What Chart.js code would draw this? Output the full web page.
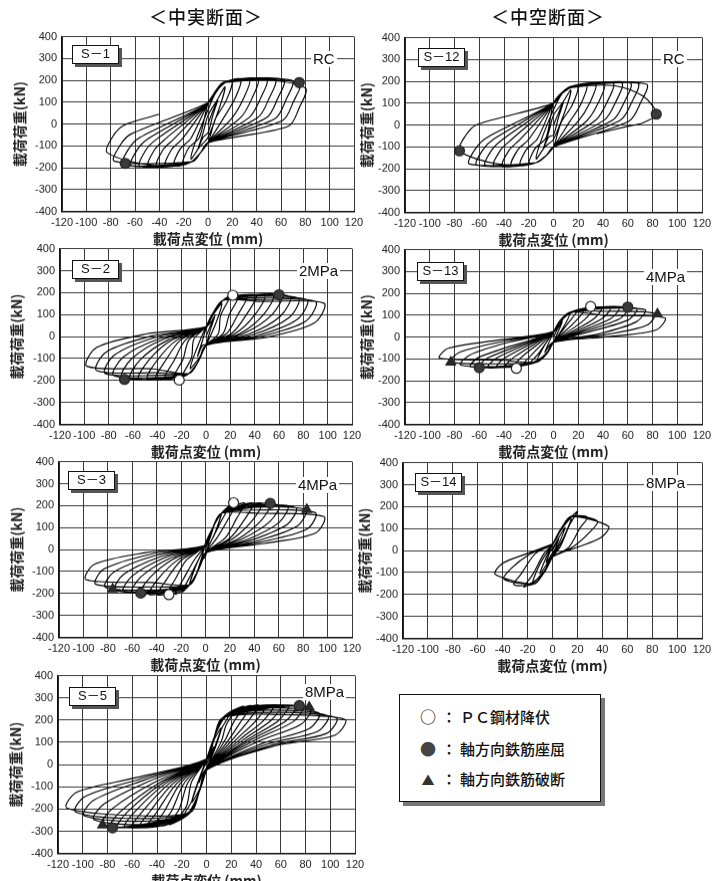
<!DOCTYPE html>
<html lang="ja">
<head>
<meta charset="utf-8">
<title>荷重－変位履歴曲線</title>
<script src="https://cdn.jsdelivr.net/npm/chart.js@4.4.1/dist/chart.umd.min.js"></script>
<style>
  html, body { margin: 0; padding: 0; background: #fff; }
  body { width: 712px; height: 881px; position: relative; overflow: hidden; color: #111;
         font-family: 'Liberation Sans', Arial, sans-serif; }
  .panel { position: absolute; }
  .head  { position: absolute; top: 6px; transform: translateX(-50%); white-space: nowrap;
           font: 500 18px/20px 'Noto Sans CJK JP', sans-serif; letter-spacing: 1px; z-index: 2; }
  .tag   { position: absolute; box-sizing: border-box; width: 47px; height: 19px; z-index: 2;
           border: 1.5px solid #111; background: #fff; box-shadow: 3px 3px 0 #555;
           font: 13px/16px 'Liberation Sans', 'Noto Sans CJK JP', sans-serif; text-align: center; }
  .note  { position: absolute; transform: translateY(-50%); background: #fff; padding: 0 2px; z-index: 2;
           font: 15px/16px 'Liberation Sans', Arial, sans-serif; }
  .legend { position: absolute; left: 399px; top: 694px; width: 202px; height: 108px; box-sizing: border-box;
            border: 1.5px solid #111; background: #fff; box-shadow: 4px 4px 0 #777; z-index: 2; }
  .legend div { position: absolute; left: 0; height: 20px; line-height: 20px; white-space: nowrap;
                font: 500 15px/20px 'Noto Sans CJK JP', sans-serif; }
  .legend .sym { display: inline-block; width: 20px; margin-left: 18px; text-align: center; }
  .legend .col { display: inline-block; width: 22px; text-align: center; }
</style>
</head>
<body>
<div class="head" style="left:206px">＜中実断面＞</div>
<div class="head" style="left:548px">＜中空断面＞</div>
<div class="legend" id="legend"></div>

<script>
/* ============================================================
   DATA  (load path of every test, [displacement mm, load kN])
   ============================================================ */

const s1Path = [
  [0,0],[4,60],[8,110],[4,40],[0,-40],[-4,-60],[-8,-110],[-4,-40],[0,40],
  [7,105],[14,170],[10,85],[0,-60],[-7,-105],[-14,-160],[-10,-75],[0,65],
  [6,140],[13,185],[20,198],[15,108],[6,23],[0,-85],[-6,-130],[-13,-170],[-21,-185],[-16,-110],[-7,-60],
  [0,95],[6,148],[13,190],[27,205],[22,115],[13,30],[0,-85],[-6,-130],[-13,-172],[-28,-190],[-23,-115],[-14,-65],
  [0,95],[6,148],[13,190],[34,205],[29,115],[20,30],[0,-85],[-6,-130],[-13,-172],[-35,-192],[-30,-117],[-21,-67],
  [0,95],[6,148],[13,190],[41,206],[36,116],[27,31],[0,-85],[-6,-130],[-13,-172],[-42,-193],[-37,-118],[-28,-68],
  [0,95],[6,148],[13,190],[48,206],[43,116],[34,31],[0,-85],[-6,-130],[-13,-172],[-49,-193],[-44,-118],[-35,-68],
  [0,95],[6,148],[13,190],[55,205],[50,115],[41,30],[0,-85],[-6,-130],[-13,-172],[-56,-193],[-51,-118],[-42,-68],
  [0,95],[6,148],[13,190],[62,204],[57,114],[48,29],[0,-85],[-6,-130],[-13,-172],[-63,-191],[-58,-116],[-49,-66],
  [0,95],[6,148],[13,190],[69,200],[64,110],[55,25],[0,-85],[-6,-130],[-13,-172],[-70,-187],[-65,-112],[-56,-62],
  [0,95],[6,148],[13,190],[75,190],[70,100],[61,15],[0,-85],[-6,-130],[-13,-172],[-77,-170],[-72,-95],[-63,-45],
  [0,98],[6,150],[13,192],[45,204],[80,165],[75,75],[66,-10],[0,-85],[-6,-130],[-13,-172],[-45,-190],
  [-83,-130],[-78,-55],[-69,-5],[-40,45],
];

const s12Path = [
  [0,0],[4,55],[8,105],[4,35],[0,-45],[-4,-55],[-8,-105],[-4,-35],[0,45],
  [7,100],[14,160],[10,75],[0,-65],[-7,-100],[-14,-155],[-10,-70],[0,70],
  [7,145],[14,175],[20,180],[15,90],[6,10],[0,-100],[-6,-140],[-14,-172],[-20,-178],[-15,-108],[-6,-58],
  [0,100],[7,150],[15,178],[27,185],[22,95],[13,15],[0,-100],[-6,-140],[-14,-172],[-27,-183],[-22,-113],[-13,-63],
  [0,100],[7,150],[15,178],[34,188],[29,98],[20,18],[0,-100],[-6,-140],[-14,-172],[-34,-185],[-29,-115],[-20,-65],
  [0,100],[7,150],[15,178],[41,190],[36,100],[27,20],[0,-100],[-6,-140],[-14,-172],[-41,-186],[-36,-116],[-27,-66],
  [0,100],[7,150],[15,178],[48,192],[43,102],[34,22],[0,-100],[-6,-140],[-14,-172],[-48,-186],[-43,-116],[-34,-66],
  [0,100],[7,150],[15,178],[55,193],[50,103],[41,23],[0,-100],[-6,-140],[-14,-172],[-55,-185],[-50,-115],[-41,-65],
  [0,100],[7,150],[15,178],[62,193],[57,103],[48,23],[0,-100],[-6,-140],[-14,-172],[-62,-183],[-57,-113],[-48,-63],
  [0,100],[7,150],[15,178],[68,192],[63,102],[54,22],[0,-100],[-6,-140],[-14,-172],[-68,-178],[-63,-108],[-54,-58],
  [0,100],[7,150],[15,178],[75,188],[70,98],[61,18],[0,-100],[-6,-140],[-14,-172],[-45,-178],
  [-76,-118],[-71,-48],[-62,2],
  [0,100],[7,145],[15,172],[50,180],[73,130],[83,50],[72,10],[58,-8],[35,-40],
];

const s2Path = [
  [0,0],[3,40],[7,90],[3,20],[0,-35],[-3,-40],[-7,-90],[-3,-20],[0,35],
  [6,100],[13,150],[8,60],[0,-40],[-6,-100],[-13,-145],[-8,-60],[0,45],
  [6,110],[14,165],[20,185],[12,95],[10,12],[0,-40],[-6,-110],[-14,-168],[-20,-183],[-12,-98],[-10,-12],
  [0,45],[6,110],[14,165],[27,188],[19,98],[14,14],[0,-40],[-6,-110],[-14,-168],[-27,-190],[-19,-105],[-14,-15],
  [0,45],[6,110],[14,165],[34,188],[26,98],[17,14],[0,-40],[-6,-110],[-14,-168],[-34,-192],[-26,-107],[-17,-16],
  [0,45],[6,110],[14,165],[41,188],[33,98],[21,14],[0,-40],[-6,-110],[-14,-168],[-41,-192],[-33,-107],[-21,-16],
  [0,45],[6,110],[14,165],[48,188],[40,98],[24,14],[0,-40],[-6,-110],[-14,-168],[-48,-192],[-40,-107],[-24,-16],
  [0,45],[6,110],[14,165],[55,188],[47,98],[28,14],[0,-40],[-6,-110],[-14,-168],[-55,-192],[-47,-107],[-28,-16],
  [0,45],[6,110],[14,165],[62,188],[54,98],[31,14],[0,-40],[-6,-110],[-14,-168],[-62,-190],[-54,-105],[-31,-15],
  [0,45],[6,110],[14,165],[31,188],[69,182],[61,92],[35,11],[0,-40],[-6,-110],[-14,-168],[-31,-190],[-69,-185],[-61,-100],[-35,-12],
  [0,45],[6,110],[14,165],[34,183],[76,175],[68,85],[38,7],[0,-40],[-6,-110],[-14,-168],[-34,-185],[-76,-178],[-68,-93],[-38,-9],
  [0,45],[6,110],[14,165],[37,176],[83,168],[75,78],[42,4],[0,-40],[-6,-110],[-14,-168],[-37,-176],[-83,-168],[-75,-83],[-42,-4],
  [0,45],[6,110],[14,165],[40,168],[90,160],[82,70],[45,0],[0,-40],[-6,-110],[-14,-168],[-40,-165],[-90,-155],[-82,-70],[-45,2],
  [0,45],[6,110],[14,165],[44,160],[97,152],[89,62],[49,-4],[0,-40],[-6,-110],[-14,-168],[-44,-147],[-98,-135],[-90,-50],[-49,12],
  [0,45],[8,100],
];

const s13Path = [
  [0,0],[3,35],[7,70],[3,15],[0,-20],[-3,-35],[-7,-70],[-3,-15],[0,20],
  [6,75],[13,105],[8,45],[0,-25],[-6,-75],[-13,-105],[-8,-45],[0,25],
  [6,80],[19,120],[12,65],[0,-25],[-6,-80],[-19,-120],[-12,-75],[0,25],
  [6,80],[14,115],[25,128],[18,73],[0,-25],[-6,-80],[-14,-115],[-25,-128],[-18,-83],[0,25],
  [6,80],[14,115],[32,134],[25,79],[0,-25],[-6,-80],[-14,-115],[-32,-133],[-25,-88],[0,25],
  [6,80],[14,115],[39,136],[32,81],[0,-25],[-6,-80],[-14,-115],[-39,-137],[-32,-92],[0,25],
  [6,80],[14,115],[46,138],[39,83],[0,-25],[-6,-80],[-14,-115],[-46,-139],[-39,-94],[0,25],
  [6,80],[14,115],[53,138],[46,83],[0,-25],[-6,-80],[-14,-115],[-53,-141],[-46,-96],[0,25],
  [6,80],[14,115],[60,137],[53,82],[0,-25],[-6,-80],[-14,-115],[-60,-140],[-53,-95],[0,25],
  [6,80],[14,115],[67,132],[60,77],[0,-25],[-6,-80],[-14,-115],[-67,-136],[-60,-91],[0,25],
  [6,80],[14,115],[33,130],[74,125],[67,70],[37,15],[0,-25],[-6,-80],[-14,-115],[-34,-133],[-75,-128],[-68,-83],[-37,-25],[0,25],
  [6,80],[14,115],[37,118],[82,108],[75,53],[41,10],[0,-25],[-6,-80],[-14,-115],[-37,-122],[-83,-115],[-76,-70],[-41,-20],[0,25],
  [6,80],[14,115],[40,100],[90,88],[83,33],[45,2],[0,-25],[-6,-80],[-14,-115],[-41,-106],[-92,-96],[-85,-51],[-46,-15],[0,25],
  [8,85],
];

const s3Path = [
  [0,0],[3,55],[7,110],[3,40],[0,-30],[-3,-50],[-7,-105],[-3,-35],[0,30],
  [6,100],[13,165],[8,80],[0,-15],[-6,-95],[-13,-160],[-8,-75],[0,20],
  [6,100],[13,165],[19,195],[12,120],[0,-15],[-6,-95],[-13,-160],[-19,-192],[-12,-115],[0,20],
  [6,100],[13,165],[25,208],[18,133],[9,50],[0,-15],[-6,-95],[-13,-160],[-25,-203],[-18,-133],[-9,-45],[0,20],
  [6,100],[13,165],[32,212],[25,137],[16,52],[0,-15],[-6,-95],[-13,-160],[-32,-207],[-25,-137],[-16,-50],[0,20],
  [6,100],[13,165],[39,212],[32,137],[20,52],[0,-15],[-6,-95],[-13,-160],[-39,-207],[-32,-137],[-20,-50],[0,20],
  [6,100],[13,165],[46,212],[39,137],[23,52],[0,-15],[-6,-95],[-13,-160],[-46,-205],[-39,-135],[-23,-48],[0,20],
  [6,100],[13,165],[53,210],[46,135],[27,50],[0,-15],[-6,-95],[-13,-160],[-53,-200],[-46,-130],[-27,-45],[0,20],
  [6,100],[13,165],[60,204],[53,129],[30,48],[0,-15],[-6,-95],[-13,-160],[-60,-195],[-53,-125],[-30,-42],[0,20],
  [6,100],[13,165],[67,197],[60,122],[34,45],[0,-15],[-6,-95],[-13,-160],[-67,-190],[-60,-120],[-34,-38],[0,20],
  [6,100],[13,165],[33,200],[74,190],[67,115],[37,42],[0,-15],[-6,-95],[-13,-160],[-33,-193],[-74,-183],[-67,-113],[-37,-33],[0,20],
  [6,100],[13,165],[37,192],[82,182],[75,107],[41,38],[0,-15],[-6,-95],[-13,-160],[-37,-183],[-82,-172],[-75,-102],[-41,-27],[0,20],
  [6,100],[13,165],[40,180],[90,168],[83,93],[45,34],[0,-15],[-6,-95],[-13,-160],[-40,-170],[-90,-158],[-83,-88],[-45,-21],[0,20],
  [6,100],[13,165],[44,165],[97,150],[90,75],[48,28],[0,-15],[-6,-95],[-13,-160],[-44,-150],[-98,-137],[-91,-67],[-49,-14],[0,20],
  [6,90],
];

const s14Path = [
  [0,0],[5,55],[2,5],[0,-10],[-5,-55],[-2,-5],[0,10],
  [10,105],[5,30],[0,-20],[-10,-105],[-5,-30],[0,25],
  [7,95],[15,148],[9,60],[0,-30],[-7,-95],[-16,-148],[-10,-60],[0,30],
  [8,110],[20,178],[14,120],[6,15],[0,-30],[-8,-110],[-23,-166],[-16,-110],[-7,-15],[0,30],
  [8,110],[15,155],[28,152],[22,102],[13,15],[0,-30],[-8,-110],[-15,-152],[-31,-155],[-25,-105],[-14,-15],[0,30],
  [8,110],[15,155],[36,134],[30,84],[16,15],[0,-30],[-8,-110],[-15,-152],[-39,-130],[-33,-80],[-18,-15],[0,30],
  [8,110],[15,155],[45,110],[39,60],[20,15],[0,-30],[-8,-110],[-15,-152],[-46,-108],[-40,-58],[-21,-15],[0,30],
];

const s5Path = [
  [0,0],[3,40],[6,80],[3,25],[0,-15],[-3,-40],[-6,-80],[-3,-25],[0,15],
  [6,110],[12,165],[8,90],[0,-25],[-6,-115],[-12,-170],[-8,-95],[0,25],
  [6,120],[13,200],[18,220],[12,160],[5,50],[0,-25],[-6,-125],[-13,-205],[-18,-225],[-12,-165],[-5,-50],[0,25],
  [6,120],[13,210],[24,250],[16,180],[12,105],[0,-25],[-6,-125],[-13,-215],[-24,-255],[-16,-185],[-12,-77],[0,25],
  [6,120],[13,210],[30,262],[22,192],[15,110],[0,-25],[-6,-125],[-13,-215],[-30,-270],[-22,-200],[-15,-81],[0,25],
  [6,120],[13,210],[36,266],[28,196],[18,112],[0,-25],[-6,-125],[-13,-215],[-36,-276],[-28,-206],[-18,-83],[0,25],
  [6,120],[13,210],[42,268],[34,198],[21,113],[0,-25],[-6,-125],[-13,-215],[-42,-280],[-34,-210],[-21,-84],[0,25],
  [6,120],[13,210],[48,268],[40,198],[24,113],[0,-25],[-6,-125],[-13,-215],[-48,-282],[-40,-212],[-24,-85],[0,25],
  [6,120],[13,210],[54,268],[46,198],[27,113],[0,-25],[-6,-125],[-13,-215],[-54,-283],[-46,-213],[-27,-85],[0,25],
  [6,120],[13,210],[60,268],[52,198],[30,113],[0,-25],[-6,-125],[-13,-215],[-60,-283],[-52,-213],[-30,-85],[0,25],
  [6,120],[13,210],[66,267],[58,197],[33,112],[0,-25],[-6,-125],[-13,-215],[-66,-283],[-58,-213],[-33,-85],[0,25],
  [6,120],[13,210],[72,266],[64,196],[36,112],[0,-25],[-6,-125],[-13,-215],[-72,-284],[-64,-214],[-36,-85],[0,25],
  [6,120],[13,210],[78,263],[70,193],[39,110],[0,-25],[-6,-125],[-13,-215],[-78,-284],[-70,-214],[-39,-85],[0,25],
  [6,120],[13,210],[40,265],[84,250],[76,180],[42,105],[0,-25],[-6,-125],[-13,-215],[-40,-280],[-84,-268],[-76,-198],[-42,-80],[0,25],
  [6,120],[13,210],[45,255],[91,232],[83,162],[46,97],[0,-25],[-6,-125],[-13,-215],[-45,-268],[-91,-248],[-83,-178],[-46,-74],[0,25],
  [6,120],[13,210],[50,245],[98,220],[90,150],[49,92],[0,-25],[-6,-125],[-13,-215],[-50,-255],[-99,-230],[-91,-160],[-50,-69],[0,25],
  [6,120],[13,210],[55,235],[105,210],[97,140],[53,88],[0,-25],[-6,-125],[-13,-215],[-55,-243],[-106,-213],[-98,-143],[-53,-64],[0,25],
  [6,120],[13,210],[58,225],[112,203],[104,133],[56,85],[0,-25],[-6,-125],[-13,-215],[-58,-230],[-113,-195],[-105,-125],[-57,-59],[0,25],
  [6,110],
];

// event markers: PC yield (open), bar buckling (filled), bar rupture (triangle)
const s1Buckle  = [[75,190],[-68,-180]];
const s12Buckle = [[83,50],[-76,-118]];
const s2Yield   = [[22,188],[-22,-198]];
const s2Buckle  = [[60,190],[-67,-195]];
const s13Yield  = [[30,140],[-30,-143]];
const s13Buckle = [[60,137],[-60,-140]];
const s13Break  = [[84,105],[-83,-115]];
const s3Yield   = [[23,213],[-30,-205]];
const s3Buckle  = [[53,210],[-53,-198]];
const s3Break   = [[83,182],[-76,-180]];
const s5Buckle  = [[75,265],[-76,-285]];
const s5Break   = [[83,258],[-84,-272]];

const legendSymbols = ['○', '●', '▲'];
const legendLabels  = ['ＰＣ鋼材降伏', '軸方向鉄筋座屈', '軸方向鉄筋破断'];

/* ============================================================
   LAYOUT
   ============================================================ */

const AXIS_W = 58;
const panels = [
  { tag: 'S－1',  note: 'RC',   path: s1Path,  yieldPts: [],       buckle: s1Buckle,  rupture: [],
    area: [62, 37, 354, 211],  tagAt: [72, 45],   noteAt: [311, 59],  yTitle: 42 },
  { tag: 'S－12', note: 'RC',   path: s12Path, yieldPts: [],       buckle: s12Buckle, rupture: [],
    area: [405, 38, 702, 212], tagAt: [418, 48],  noteAt: [661, 59],  yTitle: 38 },
  { tag: 'S－2',  note: '2MPa', path: s2Path,  yieldPts: s2Yield,  buckle: s2Buckle,  rupture: [],
    area: [60, 249, 352, 424], tagAt: [72, 260],  noteAt: [297, 271], yTitle: 43 },
  { tag: 'S－13', note: '4MPa', path: s13Path, yieldPts: s13Yield, buckle: s13Buckle, rupture: s13Break,
    area: [405, 250, 702, 424], tagAt: [417, 262], noteAt: [644, 277], yTitle: 38 },
  { tag: 'S－3',  note: '4MPa', path: s3Path,  yieldPts: s3Yield,  buckle: s3Buckle,  rupture: s3Break,
    area: [59, 462, 352, 637], tagAt: [68, 471],  noteAt: [296, 485], yTitle: 42 },
  { tag: 'S－14', note: '8MPa', path: s14Path, yieldPts: [],       buckle: [],        rupture: [],
    area: [403, 463, 702, 638], tagAt: [415, 473], noteAt: [644, 483], yTitle: 38 },
  { tag: 'S－5',  note: '8MPa', path: s5Path,  yieldPts: [],       buckle: s5Buckle,  rupture: s5Break,
    area: [58, 676, 355, 853], tagAt: [69, 687],  noteAt: [303, 692], yTitle: 42 },
];

/* ============================================================
   CHART CONFIG
   ============================================================ */

const toXY = pts => pts.map(([x, y]) => ({ x, y }));
const TICK_FONT  = { family: "'Liberation Sans', Arial, sans-serif", size: 11 };
const TITLE_FONT = { family: "'Noto Sans CJK JP', sans-serif", size: 14, weight: 'bold' };

function markerSet(pts, style, fill) {
  return {
    data: toXY(pts), pointStyle: style, pointRadius: style === 'triangle' ? 5.5 : 5,
    backgroundColor: fill, borderColor: '#222', borderWidth: 1.2, order: 0,
  };
}

function buildConfig(p) {
  const grid = { color: '#3a3a3a', lineWidth: 1, drawTicks: false };
  return {
    type: 'scatter',
    data: {
      datasets: [
        markerSet(p.yieldPts, 'circle', '#fff'),
        markerSet(p.buckle, 'circle', '#3a3a3a'),
        markerSet(p.rupture, 'triangle', '#2a2a2a'),
        {
          data: toXY(p.path), showLine: true, fill: false,
          borderColor: '#000', borderWidth: 1.15, pointRadius: 0, tension: 0.3, order: 1,
        },
      ],
    },
    options: {
      responsive: true,
      maintainAspectRatio: false,
      animation: false,
      events: [],
      layout: { padding: { top: 10, right: 14, left: 0, bottom: 0 } },
      plugins: { legend: { display: false }, tooltip: { enabled: false } },
      scales: {
        x: {
          type: 'linear', min: -120, max: 120,
          afterFit: s => { s.height = 40; },
          ticks: { stepSize: 20, autoSkip: false, maxRotation: 0, padding: 5, color: '#222', font: TICK_FONT },
          grid, border: { color: '#111', width: 1.5 },
          title: { display: true, text: '載荷点変位 (mm)', color: '#222', font: TITLE_FONT, padding: { top: 0, bottom: 5 } },
        },
        y: {
          type: 'linear', min: -400, max: 400,
          afterFit: s => { s.width = AXIS_W; },
          ticks: { stepSize: 100, padding: 5, color: '#222', font: TICK_FONT },
          grid, border: { color: '#111', width: 1.5 },
          title: { display: true, text: '載荷荷重(kN)', color: '#222', font: TITLE_FONT,
                   padding: { top: AXIS_W - p.yTitle - 8.4, bottom: 0 } },
        },
      },
    },
  };
}

/* ============================================================
   RENDER
   ============================================================ */

function placePanel(p) {
  const [l, t, r, b] = p.area;
  const box = document.createElement('div');
  box.className = 'panel';
  let w = r - l + AXIS_W + 14, h = b - t + 10 + 40;
  box.style.width = w + 'px';
  box.style.height = h + 'px';
  document.body.appendChild(box);

  const cv = document.createElement('canvas');
  box.appendChild(cv);
  const chart = new Chart(cv, buildConfig(p));

  // nudge the canvas so the plot area lands where the original frame is
  const a = chart.chartArea;
  w += (r - l) - (a.right - a.left);
  h += (b - t) - (a.bottom - a.top);
  box.style.width = w + 'px';
  box.style.height = h + 'px';
  chart.resize();
  const c = chart.chartArea;
  box.style.left = (l - c.left) + 'px';
  box.style.top = (t - c.top) + 'px';

  const tag = document.createElement('div');
  tag.className = 'tag';
  tag.style.left = p.tagAt[0] + 'px';
  tag.style.top = p.tagAt[1] + 'px';
  tag.textContent = p.tag;
  document.body.appendChild(tag);

  const note = document.createElement('div');
  note.className = 'note';
  note.style.left = p.noteAt[0] + 'px';
  note.style.top = p.noteAt[1] + 'px';
  note.textContent = p.note;
  document.body.appendChild(note);
}

function renderLegend() {
  const leg = document.getElementById('legend');
  const colors = ['#111', '#444', '#333'];
  leg.innerHTML = legendLabels.map((txt, i) => `
    <div style="top:${11 + i * 31.5}px">
      <span class="sym" style="color:${colors[i]};font-size:${i === 2 ? 13 : 16}px">${legendSymbols[i]}</span><span class="col">：</span><span>${txt}</span>
    </div>`).join('');
}

panels.forEach(placePanel);
renderLegend();
</script>
</body>
</html>
